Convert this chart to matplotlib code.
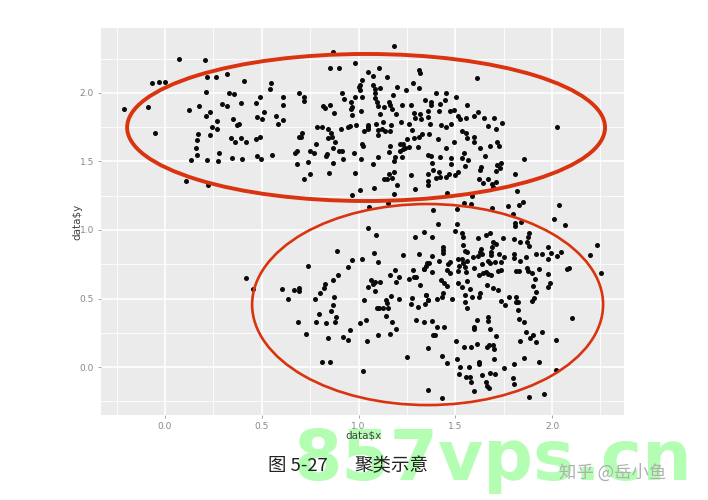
import numpy as np
import matplotlib
matplotlib.use('Agg')
import matplotlib.pyplot as plt
from matplotlib.patches import Ellipse

# upper cluster, left part
x1 = [0.07, 0.205, 0.87, 0.85, 0.90, 0.98, -0.07, -0.03, 0.0, 0.215, 0.265, 0.32, 0.41, 0.55, 0.54, 0.21, 0.33, 0.355, 0.69, 0.49,
      0.61, 0.72, 0.72, 0.395, 0.47, 0.295, 0.32, 0.175, 0.61, 0.125, -0.21, -0.09, 0.23, 0.21, 0.51, 0.475, 0.50, 0.575, 0.61, 0.585,
      0.35, 0.27, 0.37, 0.38, 0.245, 0.27, -0.05, 0.17, 0.23, 0.165, 0.34, 0.395, 0.36, 0.42, 0.47, 0.49, 0.16, 0.165, 0.28, 0.135,
      0.215, 0.275, 0.345, 0.40, 0.475, 0.495, 0.555, 0.11, 0.22, 0.815, 0.825, 0.85, 0.875, 0.915, 0.925, 0.96, 0.98, 1.02, 0.965, 0.96,
      0.965, 1.015, 0.785, 0.81, 0.84, 0.86, 0.865, 0.84, 0.91, 0.945, 0.955, 0.985, 1.03, 1.05, 0.71, 0.705, 0.69, 0.78, 0.88, 0.87,
      1.02, 1.025, 0.68, 0.67, 0.75, 0.77, 0.835, 0.83, 0.90, 0.915, 0.975, 0.92, 0.87, 1.015, 0.68, 0.74, 0.75, 0.72, 0.845, 0.98,
      1.01, 0.965, 1.05, 1.0, 1.01, 1.02, 1.01]
y1 = [2.25, 2.24, 2.30, 2.18, 2.18, 2.22, 2.07, 2.08, 2.08, 2.12, 2.12, 2.14, 2.09, 2.07, 2.03, 2.01, 2.0, 1.99, 2.0, 1.97,
      1.97, 1.97, 1.94, 1.93, 1.93, 1.92, 1.905, 1.905, 1.91, 1.875, 1.88, 1.895, 1.86, 1.83, 1.86, 1.825, 1.81, 1.83, 1.80, 1.775,
      1.81, 1.795, 1.765, 1.77, 1.755, 1.74, 1.71, 1.70, 1.69, 1.66, 1.67, 1.67, 1.64, 1.645, 1.665, 1.68, 1.60, 1.55, 1.565, 1.51,
      1.51, 1.505, 1.525, 1.52, 1.54, 1.515, 1.545, 1.355, 1.33, 1.905, 1.89, 1.915, 1.855, 2.0, 1.955, 1.935, 1.97, 1.97, 1.895, 1.88,
      1.84, 1.865, 1.75, 1.75, 1.735, 1.705, 1.68, 1.67, 1.735, 1.75, 1.76, 1.765, 1.72, 1.755, 1.705, 1.675, 1.675, 1.63, 1.64, 1.60,
      1.63, 1.61, 1.58, 1.565, 1.575, 1.56, 1.555, 1.54, 1.575, 1.575, 1.565, 1.515, 1.49, 1.515, 1.48, 1.495, 1.405, 1.375, 1.415, 1.415,
      1.295, 1.255, 2.155, 2.04, 2.06, 2.095, 2.025]

# upper cluster, right part
x2 = [1.185, 1.61, 2.025, 1.105, 1.075, 1.145, 1.315, 1.32, 1.075, 1.085, 1.11, 1.20, 1.245, 1.28, 1.31, 1.18, 1.085, 1.085, 1.40, 1.45,
      1.505, 1.345, 1.375, 1.375, 1.42, 1.445, 1.56, 1.095, 1.10, 1.13, 1.16, 1.165, 1.175, 1.195, 1.11, 1.225, 1.27, 1.285, 1.32, 1.36,
      1.36, 1.29, 1.325, 1.415, 1.473, 1.495, 1.515, 1.525, 1.555, 1.595, 1.62, 1.65, 1.70, 1.74, 1.67, 1.71, 1.37, 1.425, 1.45, 1.48,
      1.22, 1.26, 1.275, 1.125, 1.17, 1.09, 1.05, 1.05, 1.10, 1.12, 1.135, 1.165, 1.10, 1.535, 1.555, 1.56, 1.595, 1.595, 1.365, 1.33,
      1.315, 1.285, 1.25, 1.41, 1.495, 1.215, 1.23, 1.165, 1.26, 1.305, 1.23, 1.215, 1.24, 1.16, 1.45, 1.63, 1.68, 1.715, 1.725, 1.545,
      1.654, 1.36, 1.373, 1.42, 1.48, 1.535, 1.568, 1.19, 1.185, 1.225, 1.10, 1.075, 1.38, 1.48, 1.55, 1.633, 1.63, 1.735, 1.715, 1.733,
      1.71, 1.855, 1.81, 1.387, 1.416, 1.36, 1.40, 1.423, 1.45, 1.47, 1.50, 1.513, 1.27, 1.185, 1.156, 1.13, 1.145, 1.175, 1.358, 1.36,
      1.625, 1.668, 1.645, 1.688, 1.71, 1.697, 1.197, 1.08, 1.294, 1.185, 1.456, 1.82, 1.585, 1.85, 1.83, 2.035, 1.77, 1.547, 1.58, 1.15,
      1.056, 1.385, 1.507, 1.69, 1.797, 2.012]
y2 = [2.34, 2.11, 1.75, 2.18, 2.125, 2.12, 2.165, 2.145, 2.055, 2.03, 2.035, 2.04, 2.02, 2.07, 2.035, 1.985, 2.0, 1.96, 2.0, 2.0,
      1.97, 1.945, 1.935, 1.91, 1.92, 1.945, 1.915, 1.935, 1.905, 1.90, 1.935, 1.91, 1.885, 1.85, 1.845, 1.915, 1.91, 1.855, 1.845, 1.865,
      1.825, 1.815, 1.81, 1.87, 1.865, 1.875, 1.83, 1.81, 1.82, 1.835, 1.86, 1.815, 1.82, 1.78, 1.76, 1.74, 1.775, 1.765, 1.755, 1.775,
      1.785, 1.77, 1.73, 1.79, 1.765, 1.77, 1.765, 1.74, 1.73, 1.735, 1.72, 1.72, 1.69, 1.72, 1.705, 1.67, 1.675, 1.64, 1.70, 1.70,
      1.675, 1.67, 1.665, 1.665, 1.64, 1.63, 1.63, 1.61, 1.605, 1.605, 1.59, 1.58, 1.60, 1.57, 1.60, 1.595, 1.61, 1.64, 1.61, 1.56,
      1.54, 1.55, 1.54, 1.535, 1.525, 1.525, 1.51, 1.535, 1.50, 1.53, 1.535, 1.48, 1.49, 1.48, 1.47, 1.46, 1.44, 1.49, 1.475, 1.45,
      1.43, 1.52, 1.41, 1.44, 1.42, 1.41, 1.38, 1.385, 1.385, 1.41, 1.40, 1.42, 1.40, 1.42, 1.41, 1.37, 1.375, 1.38, 1.36, 1.325,
      1.37, 1.375, 1.34, 1.335, 1.35, 1.315, 1.33, 1.31, 1.30, 1.26, 1.27, 1.285, 1.245, 1.205, 1.18, 1.18, 1.175, 1.20, 1.19, 1.20,
      1.17, 1.145, 1.15, 1.16, 1.12, 1.08]

# lower cluster, left part
x3 = [1.047, 1.09, 1.292, 1.34, 0.891, 1.082, 1.232, 1.314, 0.966, 1.018, 1.10, 0.737, 0.944, 1.356, 1.34, 1.189, 1.283, 0.892, 1.165, 1.211,
      0.87, 1.065, 1.085, 1.11, 1.194, 1.26, 1.289, 1.297, 0.417, 0.827, 0.822, 1.077, 1.049, 1.318, 0.453, 0.605, 0.668, 0.693, 0.691, 0.801,
      1.085, 0.873, 1.168, 0.775, 0.636, 1.03, 1.211, 1.277, 1.349, 1.359, 1.142, 1.146, 0.867, 1.273, 1.344, 1.309, 1.094, 1.108, 1.125, 1.154,
      0.86, 0.796, 1.14, 0.884, 1.039, 1.296, 1.34, 0.686, 0.78, 0.83, 0.88, 1.008, 1.175, 0.958, 1.194, 0.727, 1.103, 1.163, 0.844, 0.922,
      0.944, 1.042, 1.357, 1.251, 0.81, 0.853, 1.022, 1.361]
y3 = [1.012, 0.963, 0.951, 0.988, 0.844, 0.832, 0.818, 0.822, 0.781, 0.791, 0.764, 0.737, 0.732, 0.757, 0.715, 0.706, 0.71, 0.674, 0.669, 0.659,
      0.635, 0.637, 0.62, 0.623, 0.623, 0.642, 0.657, 0.655, 0.647, 0.603, 0.579, 0.603, 0.584, 0.596, 0.572, 0.567, 0.56, 0.574, 0.555, 0.538,
      0.552, 0.513, 0.521, 0.499, 0.494, 0.491, 0.499, 0.506, 0.526, 0.489, 0.489, 0.465, 0.453, 0.46, 0.46, 0.438, 0.428, 0.428, 0.428, 0.433,
      0.409, 0.384, 0.375, 0.363, 0.343, 0.346, 0.328, 0.328, 0.328, 0.324, 0.328, 0.321, 0.328, 0.27, 0.28, 0.238, 0.234, 0.241, 0.212, 0.219,
      0.195, 0.187, 0.136, 0.071, 0.039, 0.039, -0.029, -0.17]

# lower cluster, right part
x4 = [2.069, 1.809, 1.811, 1.84, 1.413, 1.507, 1.5, 1.38, 1.535, 1.542, 1.657, 1.678, 1.616, 1.745, 1.805, 1.835, 1.881, 1.874, 1.873, 1.88,
      1.694, 1.711, 1.692, 1.542, 1.437, 1.435, 1.435, 1.55, 1.559, 1.631, 1.628, 1.638, 1.683, 1.683, 1.726, 1.754, 1.802, 1.804, 1.866, 1.917,
      1.947, 1.978, 1.995, 2.024, 2.045, 1.98, 2.233, 2.198, 2.252, 2.076, 2.086, 1.382, 1.418, 1.363, 1.349, 1.339, 1.382, 1.473, 1.463, 1.459,
      1.473, 1.513, 1.533, 1.542, 1.561, 1.518, 1.514, 1.55, 1.554, 1.594, 1.619, 1.597, 1.638, 1.668, 1.68, 1.704, 1.737, 1.621, 1.642, 1.657,
      1.671, 1.683, 1.721, 1.738, 1.812, 1.828, 1.835, 1.869, 1.878, 1.895, 1.931, 1.912, 1.98, 1.99, 1.981, 1.9, 1.919, 1.907, 1.897, 1.776,
      1.814, 1.814, 1.826, 1.738, 1.756, 1.823, 1.425, 1.442, 1.456, 1.513, 1.535, 1.561, 1.578, 1.664, 1.694, 1.719, 1.549, 1.587, 1.63, 1.625,
      1.55, 1.561, 1.483, 1.439, 1.43, 1.408, 1.361, 1.349, 1.613, 1.671, 1.669, 1.599, 1.599, 1.68, 1.711, 1.83, 1.855, 2.104, 1.382, 1.408,
      1.444, 1.396, 1.387, 1.866, 1.9, 1.886, 1.947, 1.919, 1.835, 2.021, 1.502, 1.547, 1.583, 1.614, 1.662, 1.675, 1.697, 1.699, 1.70, 1.43,
      1.511, 1.459, 1.857, 1.931, 1.805, 1.623, 1.625, 1.523, 1.57, 1.75, 2.019, 1.518, 1.64, 1.681, 1.704, 1.556, 1.576, 1.80, 1.58, 1.657,
      1.804, 1.662, 1.676, 1.595, 1.433, 1.88, 1.957]
y4 = [1.037, 1.054, 1.032, 1.058, 1.041, 1.044, 0.993, 0.951, 0.98, 0.951, 0.964, 0.976, 0.939, 0.939, 0.932, 0.912, 0.976, 0.947, 0.915, 0.883,
      0.91, 0.895, 0.874, 0.89, 0.874, 0.854, 0.83, 0.849, 0.837, 0.859, 0.842, 0.822, 0.842, 0.818, 0.822, 0.805, 0.825, 0.793, 0.805, 0.822,
      0.827, 0.878, 0.832, 0.813, 0.842, 0.788, 0.893, 0.82, 0.684, 0.715, 0.723, 0.813, 0.776, 0.762, 0.737, 0.715, 0.691, 0.769, 0.752, 0.708,
      0.689, 0.786, 0.786, 0.762, 0.774, 0.74, 0.701, 0.732, 0.691, 0.8, 0.81, 0.72, 0.749, 0.774, 0.757, 0.769, 0.764, 0.674, 0.684, 0.696,
      0.679, 0.672, 0.703, 0.708, 0.701, 0.701, 0.774, 0.72, 0.701, 0.684, 0.713, 0.642, 0.679, 0.615, 0.582, 0.589, 0.545, 0.506, 0.482, 0.511,
      0.509, 0.477, 0.472, 0.482, 0.45, 0.418, 0.635, 0.611, 0.591, 0.613, 0.581, 0.625, 0.567, 0.596, 0.579, 0.562, 0.526, 0.509, 0.543, 0.511,
      0.477, 0.433, 0.499, 0.538, 0.513, 0.494, 0.489, 0.526, 0.343, 0.367, 0.333, 0.294, 0.277, 0.275, 0.229, 0.35, 0.331, 0.36, 0.333, 0.29,
      0.294, 0.236, 0.231, 0.258, 0.236, 0.214, 0.258, 0.182, 0.187, 0.197, 0.192, 0.146, 0.143, 0.165, 0.146, 0.158, 0.158, 0.129, 0.061, 0.08,
      0.061, 0.027, 0.068, 0.034, 0.024, 0.036, 0.019, 0.0, 0.0, -0.005, -0.022, -0.051, -0.058, -0.044, -0.051, -0.07, -0.07, -0.078, -0.112, -0.107,
      -0.124, -0.136, -0.151, -0.173, -0.224, -0.221, -0.197]

tick_x = [0.0, 0.5, 1.0, 1.5, 2.0]
tick_y = [0.0, 0.5, 1.0, 1.5, 2.0]
minor_x = [-0.25, 0.25, 0.75, 1.25, 1.75, 2.25]
minor_y = [-0.25, 0.25, 0.75, 1.25, 1.75, 2.25]

data_x = np.concatenate([x1, x2, x3, x4])
data_y = np.concatenate([y1, y2, y3, y4])

W, H = 708, 500
cjk = ['Noto Sans CJK SC', 'DejaVu Sans']
fig = plt.figure(figsize=(W / 100, H / 100), dpi=100)
fig.patch.set_facecolor('white')

# watermark goes in first, everything else sits on top of it
fig.text(294 / W, 1 - 480 / H, '857vps.cn', color='#B4FEB4', fontsize=50, fontweight='bold',
         family='DejaVu Sans', ha='left', va='baseline', zorder=0)

ax = fig.add_axes([101 / W, 1 - 415 / H, 523 / W, 387 / H], zorder=1)
ax.set_facecolor('#EBEBEB')
ax.set_xlim(-0.331, 2.372)
ax.set_ylim(-0.35, 2.474)
for s in ax.spines.values():
    s.set_visible(False)

ax.set_xticks(tick_x)
ax.set_yticks(tick_y)
ax.set_xticks(minor_x, minor=True)
ax.set_yticks(minor_y, minor=True)
ax.grid(True, which='major', color='white', lw=1.2)
ax.grid(True, which='minor', color='white', lw=0.6)
ax.set_axisbelow(True)
ax.tick_params(which='major', length=2, width=0.6, color='#999999', labelsize=6.5, labelcolor='#888888', pad=3)
ax.tick_params(which='minor', length=0)

ax.scatter(data_x, data_y, s=13, color='#0A0A0A', linewidths=0, zorder=3)

ax.add_patch(Ellipse((1.039, 1.748), 2.47, 1.073, fill=False, edgecolor='#D9330F', lw=2.8, zorder=4))
ax.add_patch(Ellipse((1.357, 0.456), 1.814, 1.467, fill=False, edgecolor='#D9330F', lw=1.9, zorder=4))

fig.text(363 / W, 1 - 436 / H, r'data\$x', color='#444444', fontsize=7.5, ha='center', va='center', zorder=2)
fig.text(77 / W, 1 - 222 / H, r'data\$y', color='#444444', fontsize=7.5, rotation=90,
         ha='center', va='center', zorder=2)

fig.text(268 / W, 1 - 466 / H, '图 5-27', color='#222222', fontsize=13.3,
         family=cjk, ha='left', va='center', zorder=2)
fig.text(354 / W, 1 - 466 / H, '聚类示意', color='#222222', fontsize=13.3,
         family=cjk, ha='left', va='center', zorder=2)
fig.text(559 / W, 1 - 473 / H, '知乎 @岳小鱼', color='#B0B0B0', fontsize=12.5,
         family=cjk, ha='left', va='center', zorder=2)

fig.savefig('out.png', dpi=100)
